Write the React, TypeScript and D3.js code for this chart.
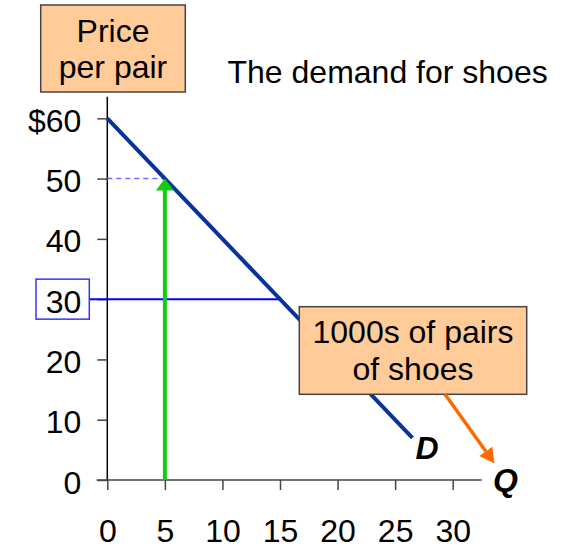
import { useEffect, useRef } from 'react';
import * as d3 from 'd3';

// quantities (1000s of pairs) and prices on the axes
const qTicks = [0, 5, 10, 15, 20, 25, 30];
const pTicks = [0, 10, 20, 30, 40, 50, 60];
const pLabels = ['0', '10', '20', '30', '40', '50', '$60'];

// demand curve D
const demandQ = [0, 26.5];
const demandP = [60, 7];

// highlighted points
const arrowQ = 5;
const arrowP = 50;
const markedP = 30;
const markedQ = 15;

const FONT = '"Liberation Sans", Arial, sans-serif';

const App = () => {
    const svgRef = useRef<SVGSVGElement>(null);

    useEffect(() => {
        const svg = d3.select(svgRef.current);
        svg.selectAll('*').remove();

        const x = d3.scaleLinear().domain([0, 30]).range([107.3, 452.7]);
        const y = d3.scaleLinear().domain([0, 60]).range([480, 118.3]);

        // axes lines
        svg.append('line')
            .attr('x1', x(0)).attr('x2', x(0))
            .attr('y1', 96.7).attr('y2', y(0))
            .attr('stroke', '#000').attr('stroke-width', 1.5);
        svg.append('line')
            .attr('x1', x(0) - 10.6).attr('x2', 481.7)
            .attr('y1', y(0)).attr('y2', y(0))
            .attr('stroke', '#444').attr('stroke-width', 1.5);

        // y axis
        const yAxis = svg.append('g')
            .attr('transform', `translate(${x(0)},0)`)
            .call(d3.axisLeft(y).tickValues(pTicks).tickSize(10).tickPadding(16)
                .tickFormat((d) => pLabels[pTicks.indexOf(+d)]));
        yAxis.select('.domain').remove();
        yAxis.selectAll('line').attr('stroke', '#444').attr('stroke-width', 1.5);
        yAxis.selectAll('text')
            .attr('font-family', FONT).attr('font-size', 32).attr('fill', '#000')
            .attr('dy', 13);
        yAxis.attr('font-size', 32).attr('font-family', FONT);

        // x axis
        const xAxis = svg.append('g')
            .attr('transform', `translate(0,${y(0)})`)
            .call(d3.axisBottom(x).tickValues(qTicks).tickSize(10).tickPadding(29.5)
                .tickFormat((d) => String(d)));
        xAxis.select('.domain').remove();
        xAxis.selectAll('line').attr('stroke', '#444').attr('stroke-width', 1.5);
        xAxis.selectAll('text')
            .attr('font-family', FONT).attr('font-size', 32).attr('fill', '#000');
        xAxis.attr('font-size', 32).attr('font-family', FONT);

        // dashed guide at P = 50
        svg.append('line')
            .attr('x1', x(0)).attr('x2', x(arrowQ))
            .attr('y1', y(arrowP)).attr('y2', y(arrowP))
            .attr('stroke', '#6a6aff').attr('stroke-width', 1.5)
            .attr('stroke-dasharray', '5,4');

        // horizontal line at P = 30
        svg.append('line')
            .attr('x1', 89.3).attr('x2', x(markedQ))
            .attr('y1', y(markedP)).attr('y2', y(markedP))
            .attr('stroke', '#0000ff').attr('stroke-width', 2);

        // box around 30
        svg.append('rect')
            .attr('x', 36).attr('y', y(markedP) - 20)
            .attr('width', 53.3).attr('height', 40)
            .attr('fill', 'none').attr('stroke', '#3333ff').attr('stroke-width', 1.5);

        // demand curve
        const line = d3.line<number>()
            .x((d) => x(d))
            .y((d, i) => y(demandP[i]));
        svg.append('path')
            .datum(demandQ)
            .attr('d', line)
            .attr('fill', 'none')
            .attr('stroke', '#0a3399')
            .attr('stroke-width', 4);

        // green arrow
        svg.append('line')
            .attr('x1', x(arrowQ)).attr('x2', x(arrowQ))
            .attr('y1', y(0)).attr('y2', y(arrowP) + 11)
            .attr('stroke', '#11cc11').attr('stroke-width', 4);
        svg.append('path')
            .attr('d', `M${x(arrowQ) - 9},${y(arrowP) + 12} L${x(arrowQ)},${y(arrowP)} L${x(arrowQ) + 9},${y(arrowP) + 12} Z`)
            .attr('fill', '#11cc11');

        // price box
        svg.append('rect')
            .attr('x', 40.7).attr('y', 5).attr('width', 144.6).attr('height', 87)
            .attr('fill', '#ffcc99').attr('stroke', '#444').attr('stroke-width', 1.5);
        svg.append('text')
            .attr('x', 113).attr('y', 41.7).attr('text-anchor', 'middle')
            .attr('font-family', FONT).attr('font-size', 32).text('Price');
        svg.append('text')
            .attr('x', 113).attr('y', 78.3).attr('text-anchor', 'middle')
            .attr('font-family', FONT).attr('font-size', 32).text('per pair');

        // title
        svg.append('text')
            .attr('x', 227.5).attr('y', 83.3)
            .attr('font-family', FONT).attr('font-size', 32)
            .text('The demand for shoes');

        // quantity box
        svg.append('rect')
            .attr('x', 299.3).attr('y', 306.7).attr('width', 227.4).attr('height', 87.6)
            .attr('fill', '#ffcc99').attr('stroke', '#444').attr('stroke-width', 1.5);
        svg.append('text')
            .attr('x', 413).attr('y', 342.7).attr('text-anchor', 'middle')
            .attr('font-family', FONT).attr('font-size', 32).text('1000s of pairs');
        svg.append('text')
            .attr('x', 413).attr('y', 380).attr('text-anchor', 'middle')
            .attr('font-family', FONT).attr('font-size', 32).text('of shoes');

        // orange arrow from box to Q
        const ax0 = 445, ay0 = 394.3, ax1 = 494.5, ay1 = 463.5;
        const ang = Math.atan2(ay1 - ay0, ax1 - ax0);
        const hl = 15, hw = 8;
        const bx = ax1 - hl * Math.cos(ang), by = ay1 - hl * Math.sin(ang);
        svg.append('line')
            .attr('x1', ax0).attr('y1', ay0).attr('x2', bx).attr('y2', by)
            .attr('stroke', '#ff6a00').attr('stroke-width', 3.5);
        svg.append('path')
            .attr('d', `M${ax1},${ay1} L${bx - hw * Math.sin(ang)},${by + hw * Math.cos(ang)} L${bx + hw * Math.sin(ang)},${by - hw * Math.cos(ang)} Z`)
            .attr('fill', '#ff6a00');

        // D and Q labels
        svg.append('text')
            .attr('x', 415.5).attr('y', 459.3)
            .attr('font-family', FONT).attr('font-size', 32)
            .attr('font-weight', 'bold').attr('font-style', 'italic').text('D');
        svg.append('text')
            .attr('x', 493).attr('y', 491)
            .attr('font-family', FONT).attr('font-size', 32)
            .attr('font-weight', 'bold').attr('font-style', 'italic').text('Q');
    }, []);

    return (
        <div>
            <svg ref={svgRef} width={570} height={549} style={{ position: 'absolute', left: 0, top: 0, background: '#fff' }}></svg>
        </div>
    );
};

export default App;
